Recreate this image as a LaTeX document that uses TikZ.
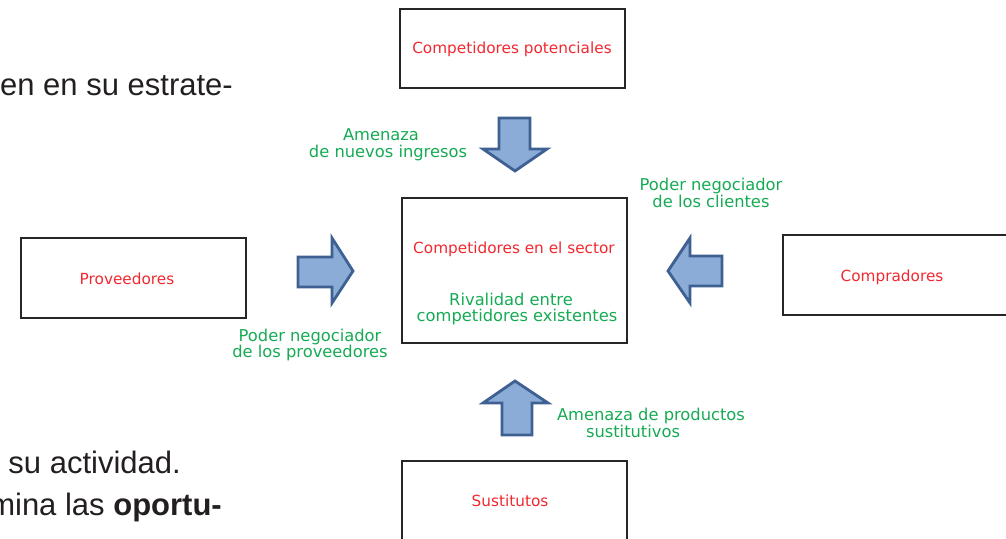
\documentclass[tikz,border=0pt]{standalone}
\usepackage{fontspec}
\setmainfont{DejaVu Sans}
\newfontfamily\bgfont{Liberation Sans}
\definecolor{lblred}{RGB}{240,40,48}
\definecolor{lblgreen}{RGB}{22,170,84}
\definecolor{arrfill}{RGB}{139,172,214}
\definecolor{arrdraw}{RGB}{62,96,146}
\definecolor{bgtext}{RGB}{35,31,32}
\tikzset{
  box/.style={draw=black!85, line width=1.4pt, inner sep=0pt},
  redlbl/.style={text=lblred, font=\fontsize{15.3}{18}\selectfont, inner sep=0pt, anchor=base},
  greenlbl/.style={text=lblgreen, font=\fontsize{16.3}{17}\selectfont, inner sep=0pt, anchor=base},
  bglbl/.style={text=bgtext, font=\bgfont\fontsize{31}{36}\selectfont, inner sep=0pt, anchor=base east},
  blockarrow/.style={fill=arrfill, draw=arrdraw, line width=2.8pt, line join=miter}
}
\begin{document}
\begin{tikzpicture}[x=1pt,y=-1pt]
\useasboundingbox (0,0) rectangle (1006,538);
% background page text
\node[bglbl] (bg1) at (233,95) {en en su estrate-};
\node[bglbl] (bg2) at (181,473) {su actividad.};
\node[bglbl] (bg3) at (222,515) {mina las \textbf{oportu-}};
% boxes
\draw[box] (400,9) rectangle (625,88);
\node[redlbl] (pot) at (512,53) {Competidores potenciales};
\draw[box] (402,198) rectangle (627,343);
\node[redlbl] (sec) at (514,253) {Competidores en el sector};
\node[greenlbl] (riv1) at (511,305) {Rivalidad entre};
\node[greenlbl] (riv2) at (517,321) {competidores existentes};
\draw[box] (21,238) rectangle (246,318);
\node[redlbl] (prov) at (127,284) {Proveedores};
\draw[box] (783,235) rectangle (1012,315);
\node[redlbl] (comp) at (892,281) {Compradores};
\draw[box] (402,461) rectangle (627,545);
\node[redlbl] (sust) at (510,506) {Sustitutos};
% block arrows
\draw[blockarrow] (499,118) -- (530,118) -- (530,149) -- (547,149) -- (515,171) -- (483,149) -- (499,149) -- cycle;
\draw[blockarrow] (298,257) -- (332,257) -- (332,238) -- (353,271) -- (332,303) -- (332,287) -- (298,287) -- cycle;
\draw[blockarrow] (722,256) -- (690,256) -- (690,238) -- (668,271) -- (690,303) -- (690,286) -- (722,286) -- cycle;
\draw[blockarrow] (502,435) -- (532,435) -- (532,403) -- (548,403) -- (515,381) -- (483,403) -- (502,403) -- cycle;
% green labels
\node[greenlbl] (am1) at (381,140) {Amenaza};
\node[greenlbl] (am2) at (388,157) {de nuevos ingresos};
\node[greenlbl] (pc1) at (711,190) {Poder negociador};
\node[greenlbl] (pc2) at (711,207) {de los clientes};
\node[greenlbl] (pp1) at (310,341) {Poder negociador};
\node[greenlbl] (pp2) at (310,357) {de los proveedores};
\node[greenlbl] (ps1) at (651,420) {Amenaza de productos};
\node[greenlbl] (ps2) at (633,437) {sustitutivos};
\end{tikzpicture}
\end{document}
